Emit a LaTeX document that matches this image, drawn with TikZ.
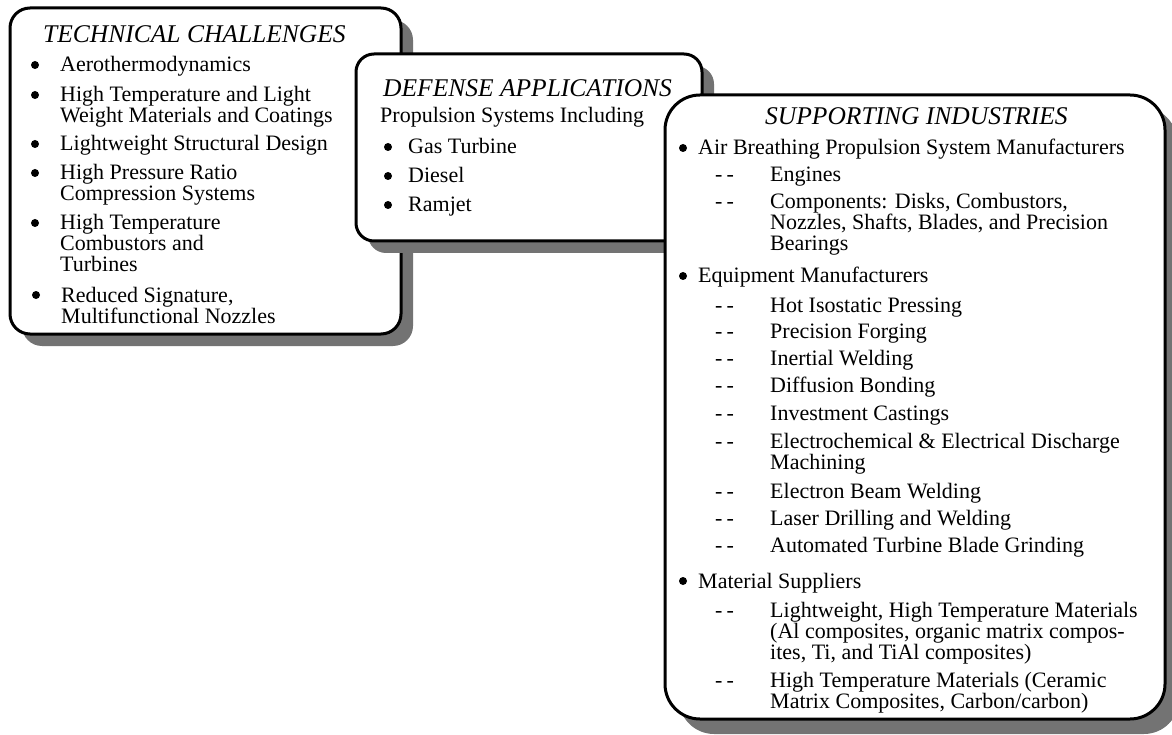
\documentclass[tikz,border=0pt]{standalone}
\usepackage{fontspec}
\setmainfont{Liberation Serif}
\usetikzlibrary{shadows}
\newcommand\bodysz{\fontsize{22}{21}\selectfont}
\newcommand\headsz{\fontsize{25.5}{26}\selectfont\itshape}
\begin{document}
\begin{tikzpicture}[x=1pt,y=-1pt,
  panel/.style={draw, line width=3pt, fill=white, inner sep=0pt,
    drop shadow={shadow xshift=12pt, shadow yshift=-12pt, fill=black!55, opacity=1}},
  head/.style={anchor=base west, inner sep=0pt, font=\headsz},
  txt/.style={anchor=base west, inner sep=0pt, font=\bodysz,
    text height=14pt, text depth=4pt},
  dot/.style={circle, fill, inner sep=0pt, minimum size=8pt},
  dashes/.style={anchor=base west, inner sep=0pt, font=\bodysz,
    text height=14pt, text depth=4pt}]
\useasboundingbox (0,0) rectangle (1172,735);

% ---------- Technical challenges ----------
\node[panel, rounded corners=20pt, minimum width=391pt, minimum height=326pt] (tc) at (205.5,171) {};
\node[head] (tch) at (43,43) {TECHNICAL CHALLENGES};
\node[dot] (tcb1) at (35,65) {};
\node[txt] (tc1) at (60,72) {Aerothermodynamics};
\node[dot] (tcb2) at (35,95) {};
\node[txt] (tc2a) at (60,102) {High Temperature and Light};
\node[txt] (tc2b) at (60,123) {Weight Materials and Coatings};
\node[dot] (tcb3) at (35,144) {};
\node[txt] (tc3) at (60,151) {Lightweight Structural Design};
\node[dot] (tcb4) at (35,173) {};
\node[txt] (tc4a) at (60,180) {High Pressure Ratio};
\node[txt] (tc4b) at (60,201) {Compression Systems};
\node[dot] (tcb5) at (35,223) {};
\node[txt] (tc5a) at (60,230) {High Temperature};
\node[txt] (tc5b) at (60,251) {Combustors and};
\node[txt] (tc5c) at (60,272) {Turbines};
\node[dot] (tcb6) at (36,295) {};
\node[txt] (tc6a) at (61,302) {Reduced Signature,};
\node[txt] (tc6b) at (61,323) {Multifunctional Nozzles};

% ---------- Defense applications ----------
\node[panel, rounded corners=18pt, minimum width=346pt, minimum height=187pt] (da) at (529,147.5) {};
\node[head] (dah) at (383,97) {DEFENSE APPLICATIONS};
\node[txt] (da0) at (380,123) {Propulsion Systems Including};
\node[dot] (dab1) at (388,147) {};
\node[txt] (da1) at (408,154) {Gas Turbine};
\node[dot] (dab2) at (388,176) {};
\node[txt] (da2) at (408,183) {Diesel};
\node[dot] (dab3) at (388,205) {};
\node[txt] (da3) at (408,212) {Ramjet};

% ---------- Supporting industries ----------
\node[panel, rounded corners=35pt, minimum width=500pt, minimum height=624pt,
  drop shadow={shadow xshift=14pt, shadow yshift=-15pt, fill=black!55, opacity=1}] (si) at (915,407) {};
\node[head] (sih) at (765,125) {SUPPORTING INDUSTRIES};

\node[dot] (sib1) at (683,148) {};
\node[txt] (si1) at (698,155) {Air Breathing Propulsion System Manufacturers};
\node[dashes] (sid11) at (715,182) {-\kern4pt-};
\node[txt] (si11) at (770,182) {Engines};
\node[dashes] (sid12) at (715,209) {-\kern4pt-};
\node[txt] (si12a) at (770,209) {Components: Disks, Combustors,};
\node[txt] (si12b) at (770,230) {Nozzles, Shafts, Blades, and Precision};
\node[txt] (si12c) at (770,251) {Bearings};

\node[dot] (sib2) at (683,276) {};
\node[txt] (si2) at (698,283) {Equipment Manufacturers};
\node[dashes] (sid21) at (715,312) {-\kern4pt-};
\node[txt] (si21) at (770,312) {Hot Isostatic Pressing};
\node[dashes] (sid22) at (715,338) {-\kern4pt-};
\node[txt] (si22) at (770,338) {Precision Forging};
\node[dashes] (sid23) at (715,365) {-\kern4pt-};
\node[txt] (si23) at (770,365) {Inertial Welding};
\node[dashes] (sid24) at (715,392) {-\kern4pt-};
\node[txt] (si24) at (770,392) {Diffusion Bonding};
\node[dashes] (sid25) at (715,420) {-\kern4pt-};
\node[txt] (si25) at (770,420) {Investment Castings};
\node[dashes] (sid26) at (715,448) {-\kern4pt-};
\node[txt] (si26a) at (770,448) {Electrochemical \& Electrical Discharge};
\node[txt] (si26b) at (770,469) {Machining};
\node[dashes] (sid27) at (715,498) {-\kern4pt-};
\node[txt] (si27) at (770,498) {Electron Beam Welding};
\node[dashes] (sid28) at (715,525) {-\kern4pt-};
\node[txt] (si28) at (770,525) {Laser Drilling and Welding};
\node[dashes] (sid29) at (715,552) {-\kern4pt-};
\node[txt] (si29) at (770,552) {Automated Turbine Blade Grinding};

\node[dot] (sib3) at (683,581) {};
\node[txt] (si3) at (698,588) {Material Suppliers};
\node[dashes] (sid31) at (715,617) {-\kern4pt-};
\node[txt] (si31a) at (770,617) {Lightweight, High Temperature Materials};
\node[txt] (si31b) at (770,638) {(Al composites, organic matrix compos-};
\node[txt] (si31c) at (770,659) {ites, Ti, and TiAl composites)};
\node[dashes] (sid32) at (715,687) {-\kern4pt-};
\node[txt] (si32a) at (770,687) {High Temperature Materials (Ceramic};
\node[txt] (si32b) at (770,708) {Matrix Composites, Carbon/carbon)};
\end{tikzpicture}
\end{document}
